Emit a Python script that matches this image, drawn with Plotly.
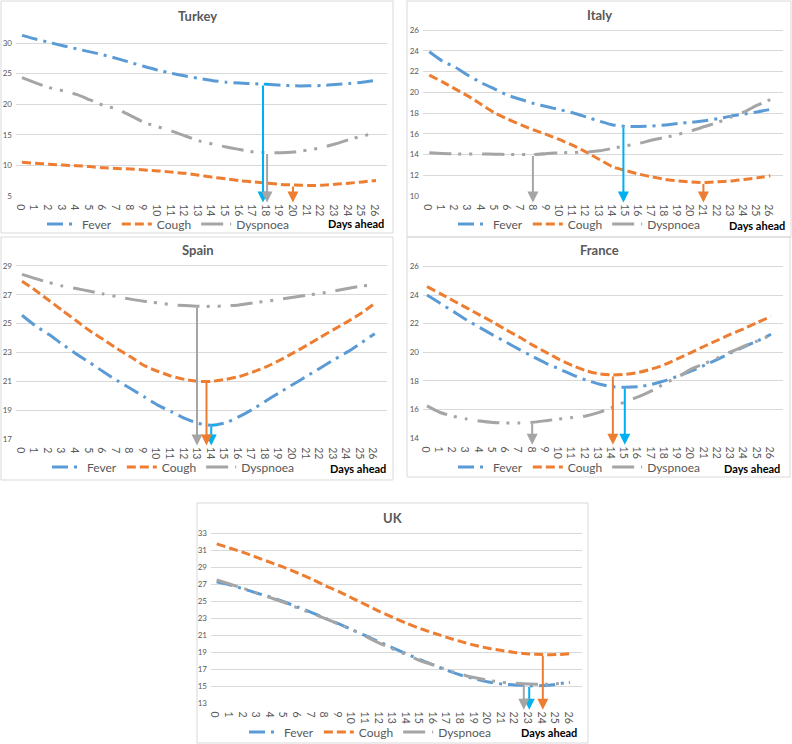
import numpy as np
import plotly.graph_objects as go

days = list(range(27))
series_names = ["Fever", "Cough", "Dyspnoea"]
countries = ["Turkey", "Italy", "Spain", "France", "UK"]

turkey_fever = [31.25, 30.65, 30.1, 29.55, 29.05, 28.55, 28.05, 27.45, 26.8, 26.15, 25.55, 25.05, 24.6, 24.2, 23.85, 23.6, 23.45, 23.35, 23.26, 23.1, 23.0, 23.0, 23.05, 23.2, 23.4, 23.6, 23.9]
turkey_cough = [10.5, 10.35, 10.2, 10.05, 9.95, 9.8, 9.6, 9.5, 9.4, 9.25, 9.1, 8.9, 8.7, 8.4, 8.05, 7.8, 7.5, 7.3, 7.1, 6.9, 6.8, 6.72, 6.75, 6.9, 7.1, 7.3, 7.55]
turkey_dysp = [24.35, 23.5, 22.7, 22.2, 21.6, 20.7, 19.8, 19.2, 18.1, 17.0, 16.3, 15.6, 14.8, 14.0, 13.5, 13.0, 12.6, 12.2, 12.1, 12.05, 12.2, 12.5, 12.9, 13.5, 14.2, 14.8, 15.3]

italy_fever = [23.9, 23.0, 22.4, 21.6, 20.9, 20.3, 19.7, 19.3, 18.9, 18.6, 18.3, 18.0, 17.6, 17.2, 16.85, 16.7, 16.7, 16.75, 16.85, 17.0, 17.1, 17.25, 17.45, 17.7, 17.9, 18.1, 18.35]
italy_cough = [21.65, 21.0, 20.3, 19.6, 18.8, 18.0, 17.4, 16.85, 16.35, 15.9, 15.4, 14.85, 14.2, 13.5, 12.8, 12.45, 12.1, 11.85, 11.6, 11.45, 11.35, 11.3, 11.37, 11.45, 11.6, 11.75, 11.95]
italy_dysp = [14.17, 14.1, 14.05, 14.05, 14.05, 14.03, 14.0, 14.0, 14.0, 14.1, 14.17, 14.2, 14.23, 14.36, 14.6, 14.85, 15.07, 15.4, 15.65, 15.95, 16.3, 16.7, 17.1, 17.6, 18.1, 18.75, 19.3]

spain_fever = [25.58, 24.84, 24.24, 23.55, 22.9, 22.3, 21.66, 21.06, 20.5, 19.93, 19.35, 18.9, 18.43, 18.08, 17.96, 18.13, 18.55, 19.06, 19.65, 20.23, 20.8, 21.36, 21.93, 22.5, 23.04, 23.66, 24.3]
spain_cough = [27.94, 27.3, 26.6, 25.9, 25.2, 24.5, 23.9, 23.27, 22.7, 22.1, 21.7, 21.36, 21.13, 21.0, 21.0, 21.13, 21.33, 21.63, 22.0, 22.46, 22.97, 23.5, 24.06, 24.6, 25.14, 25.72, 26.4]
spain_dysp = [28.42, 28.12, 27.85, 27.6, 27.43, 27.25, 27.06, 26.87, 26.7, 26.55, 26.44, 26.32, 26.25, 26.2, 26.2, 26.23, 26.3, 26.44, 26.55, 26.7, 26.83, 26.97, 27.1, 27.27, 27.43, 27.6, 27.7]

france_fever = [24.0, 23.42, 22.84, 22.26, 21.72, 21.2, 20.7, 20.19, 19.7, 19.23, 18.84, 18.42, 18.07, 17.79, 17.6, 17.56, 17.6, 17.77, 18.02, 18.35, 18.7, 19.1, 19.53, 19.98, 20.4, 20.8, 21.26]
france_cough = [24.58, 24.1, 23.6, 23.1, 22.6, 22.1, 21.56, 21.05, 20.5, 20.0, 19.5, 19.07, 18.72, 18.5, 18.42, 18.47, 18.6, 18.84, 19.16, 19.58, 20.0, 20.44, 20.86, 21.28, 21.67, 22.1, 22.5]
france_dysp = [16.26, 15.8, 15.53, 15.35, 15.2, 15.1, 15.07, 15.07, 15.12, 15.23, 15.35, 15.45, 15.56, 15.81, 16.16, 16.56, 16.9, 17.33, 17.84, 18.3, 18.84, 19.23, 19.63, 20.05, 20.44, 20.8, 21.2]

uk_fever = [27.3, 26.92, 26.45, 25.94, 25.47, 24.92, 24.3, 23.67, 23.0, 22.33, 21.63, 20.92, 20.2, 19.5, 18.8, 18.1, 17.47, 16.84, 16.3, 15.86, 15.5, 15.27, 15.16, 15.08, 15.08, 15.24, 15.5]
uk_cough = [31.75, 31.24, 30.73, 30.14, 29.55, 28.96, 28.3, 27.6, 26.84, 26.14, 25.35, 24.57, 23.78, 23.08, 22.4, 21.78, 21.24, 20.73, 20.25, 19.82, 19.47, 19.2, 18.96, 18.8, 18.73, 18.73, 18.84]
uk_dysp = [27.5, 27.0, 26.5, 25.94, 25.4, 24.84, 24.18, 23.6, 22.96, 22.3, 21.63, 20.84, 20.06, 19.35, 18.7, 18.0, 17.5, 16.9, 16.4, 16.0, 15.7, 15.47, 15.35, 15.27, 15.24, 15.3, 15.45]

# day of the minimum marked by an arrow (Fever, Cough, Dyspnoea)
turkey_arrow_days = [17.7, 19.9, 18.0]
italy_arrow_days = [14.8, 20.9, 7.9]
spain_arrow_days = [13.95, 13.6, 12.9]
france_arrow_days = [14.95, 14.05, 7.95]
uk_arrow_days = [23.0, 24.0, 22.6]

# elbow connectors at the top of some arrows: (series index, end day)
turkey_elbows = [(0, 18.2)]
italy_elbows = [(2, 8.8)]
spain_elbows = [(0, 14.4)]
france_elbows = []
uk_elbows = []

# y tick values
turkey_yticks = [5, 10, 15, 20, 25, 30]
italy_yticks = [10, 12, 14, 16, 18, 20, 22, 24, 26]
spain_yticks = [17, 19, 21, 23, 25, 27, 29]
france_yticks = [14, 16, 18, 20, 22, 24, 26]
uk_yticks = [13, 15, 17, 19, 21, 23, 25, 27, 29, 31, 33]

W, H = 792, 744
FONT = "Lato"
GREY_TXT = "#595959"
GRID = "#D9D9D9"
line_colors = ["#5B9BD5", "#ED7D31", "#A5A5A5"]
arrow_colors = ["#00B0F0", "#ED7D31", "#A5A5A5"]
dashes = ["16px,6px,3px,6px", "9px,4px", "22px,7px,3px,8px,3px,10px"]

panels = [
    dict(name="Turkey", data=[turkey_fever, turkey_cough, turkey_dysp], arrows=turkey_arrow_days,
         elbows=turkey_elbows,
         yticks=turkey_yticks, box=(16, 387, 30, 196), d0=22, d26=376, ppu=6.12,
         border=(1, 393, 1, 233), title=(197, 16), legend=(42, 224), days=(356, 224)),
    dict(name="Italy", data=[italy_fever, italy_cough, italy_dysp], arrows=italy_arrow_days,
         elbows=italy_elbows,
         yticks=italy_yticks, box=(423, 783, 28, 196), d0=429.3, d26=770.3, ppu=10.375,
         border=(407, 791, 1, 237), title=(599, 15), legend=(453, 224), days=(757, 226)),
    dict(name="Spain", data=[spain_fever, spain_cough, spain_dysp], arrows=spain_arrow_days,
         elbows=spain_elbows,
         yticks=spain_yticks, box=(16, 387, 262, 439), d0=22, d26=374.7, ppu=14.42,
         border=(1, 393, 237, 480), title=(198, 250), legend=(47, 467), days=(358, 468)),
    dict(name="France", data=[france_fever, france_cough, france_dysp], arrows=france_arrow_days,
         elbows=france_elbows,
         yticks=france_yticks, box=(423, 783, 262, 438.3), d0=427, d26=771, ppu=14.33,
         border=(407, 790, 237, 477), title=(599, 250), legend=(453, 467), days=(752, 468)),
    dict(name="UK", data=[uk_fever, uk_cough, uk_dysp], arrows=uk_arrow_days,
         elbows=uk_elbows,
         yticks=uk_yticks, box=(211, 582, 528, 703.3), d0=216.7, d26=570, ppu=8.5,
         border=(197, 588, 503, 743), title=(393, 518), legend=(244, 732), days=(549, 732)),
]

fig = go.Figure()
annotations = []
shapes = []
layout = {}

for i, p in enumerate(panels):
    k = "" if i == 0 else str(i + 1)
    xa, ya = "x" + k, "y" + k
    legname = "legend" + k
    L, R, T, B = p["box"]
    s = (p["d26"] - p["d0"]) / 26.0
    xr = [-(p["d0"] - L) / s, 26 + (R - p["d26"]) / s]
    ymin = p["yticks"][0]
    yr = [ymin, ymin + (B - T) / p["ppu"]]

    layout["xaxis" + k] = dict(
        domain=[L / W, R / W], anchor=ya, range=xr, tickmode="array", tickvals=days,
        ticktext=[str(d) for d in days], showgrid=False, zeroline=False, showline=False,
        ticks="", automargin=False, ticklabelstandoff=2,
        tickfont=dict(family=FONT, size=10.5, color=GREY_TXT), fixedrange=True)
    layout["yaxis" + k] = dict(
        domain=[1 - B / H, 1 - T / H], anchor=xa, range=yr, tickmode="array",
        tickvals=p["yticks"], showgrid=True, gridcolor=GRID, gridwidth=1, zeroline=False,
        showline=False, ticks="", ticklabelstandoff=3, automargin=False,
        tickfont=dict(family=FONT, size=8, color=GREY_TXT), fixedrange=True)

    for j, (nm, vals) in enumerate(zip(series_names, p["data"])):
        fig.add_trace(go.Scatter(
            x=days, y=vals, mode="lines", name=nm, xaxis=xa, yaxis=ya, legend=legname,
            line=dict(color=line_colors[j], width=3, dash=dashes[j], shape="spline", smoothing=0.6),
            hoverinfo="skip"))

    y_head = ymin - 6.5 / p["ppu"]
    for j, ad in enumerate(p["arrows"]):
        y_top = float(np.interp(ad, days, p["data"][j]))
        annotations.append(dict(
            x=ad, y=y_head, ax=ad, ay=y_top, xref=xa, yref=ya, axref=xa, ayref=ya,
            showarrow=True, arrowhead=2, arrowsize=1.1, arrowwidth=2,
            arrowcolor=arrow_colors[j], standoff=0, startstandoff=0, text=""))
    for j, end_day in p["elbows"]:
        ad = p["arrows"][j]
        y_top = float(np.interp(ad, days, p["data"][j]))
        annotations.append(dict(
            x=end_day, y=y_top, ax=ad - 0.05, ay=y_top, xref=xa, yref=ya, axref=xa, ayref=ya,
            showarrow=True, arrowhead=0, arrowwidth=2, arrowcolor=arrow_colors[j],
            standoff=0, startstandoff=0, text=""))

    layout[legname] = dict(
        orientation="h", x=p["legend"][0] / W, y=1 - p["legend"][1] / H, xanchor="left",
        yanchor="middle", bgcolor="rgba(0,0,0,0)", borderwidth=0,
        font=dict(family=FONT, size=12, color=GREY_TXT), itemwidth=30, tracegroupgap=0)

    annotations.append(dict(
        x=p["title"][0] / W, y=1 - p["title"][1] / H, xref="paper", yref="paper",
        text=p["name"], showarrow=False, xanchor="center", yanchor="middle",
        font=dict(family=FONT, size=13, color=GREY_TXT, weight="bold")))
    annotations.append(dict(
        x=p["days"][0] / W, y=1 - p["days"][1] / H, xref="paper", yref="paper",
        text="<b>Days ahead</b>", showarrow=False, xanchor="center", yanchor="middle",
        font=dict(family=FONT, size=11, color="#000000")))

    bl, br, bt, bb = p["border"]
    shapes.append(dict(type="rect", xref="paper", yref="paper", x0=bl / W, x1=br / W,
                       y0=1 - bb / H, y1=1 - bt / H, line=dict(color=GRID, width=1),
                       fillcolor="rgba(0,0,0,0)", layer="below"))

fig.update_layout(
    width=W, height=H, margin=dict(l=0, r=0, t=0, b=0, autoexpand=False),
    paper_bgcolor="white", plot_bgcolor="rgba(0,0,0,0)",
    annotations=annotations, shapes=shapes, showlegend=True, **layout)

fig.write_html("out.html", config={"displayModeBar": False},
               post_script="document.body.style.margin='0px';document.body.style.overflow='hidden';")
